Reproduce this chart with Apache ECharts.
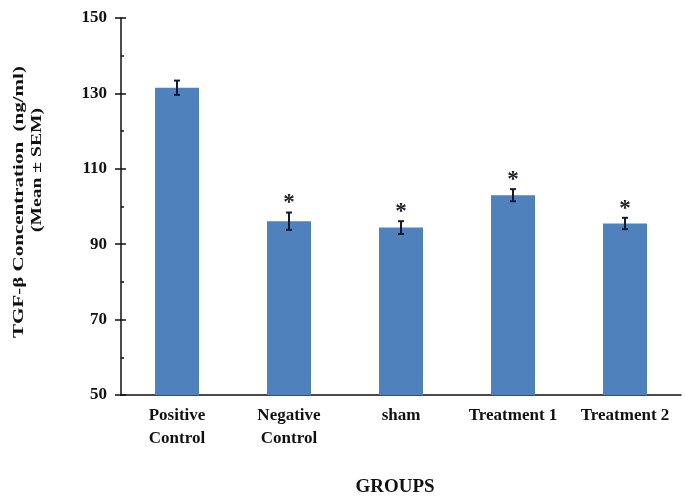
<!DOCTYPE html>
<html>
<head>
<meta charset="utf-8">
<script src="https://cdn.jsdelivr.net/npm/echarts@6/dist/echarts.min.js"></script>
<style>html,body{margin:0;padding:0;background:#fff}#c{width:685px;height:499px}</style>
</head>
<body>
<div id="c"></div>
<script>
var categories = ['Positive\nControl', 'Negative\nControl', 'sham', 'Treatment 1', 'Treatment 2'];
var means = [131.5, 96.1, 94.4, 103.0, 95.5];
var sems = [1.9, 2.3, 1.7, 1.6, 1.5];
var marks = ['', '*', '*', '*', '*'];
var yTitle = 'TGF-\u03b2 Concentration  (ng/ml)';
var ySubTitle = '(Mean \u00b1 SEM)';
var xTitle = 'GROUPS';

var FONT = "'Liberation Serif', 'Times New Roman', serif";
var chart = echarts.init(document.getElementById('c'), null, {renderer: 'canvas'});

var errData = means.map(function (m, i) { return [i, m, sems[i], marks[i]]; });

chart.setOption({
  animation: false,
  backgroundColor: '#ffffff',
  grid: {left: 121, right: 4, top: 18, bottom: 104, containLabel: false, outerBoundsMode: 'none'},
  xAxis: {
    type: 'category',
    data: categories,
    boundaryGap: true,
    axisLine: {lineStyle: {color: '#111', width: 1.5}},
    axisTick: {show: true, inside: true, alignWithLabel: true, length: 4, lineStyle: {color: '#111', width: 1.2}},
    axisLabel: {color: '#111', fontFamily: FONT, fontWeight: 'bold', fontSize: 17, lineHeight: 23, margin: 9, interval: 0},
    name: xTitle,
    nameLocation: 'middle',
    nameGap: 83,
    nameTextStyle: {color: '#111', fontFamily: FONT, fontWeight: 'bold', fontSize: 19, padding: [0, 12, 0, 0]}
  },
  yAxis: [{
    type: 'value', min: 50, max: 150, interval: 20,
    axisLine: {show: true, lineStyle: {color: '#111', width: 1.5}},
    axisTick: {show: true, inside: false, length: 6, lineStyle: {color: '#111', width: 1.5}},
    axisLabel: {color: '#111', fontFamily: FONT, fontWeight: 'bold', fontSize: 17, margin: 14},
    splitLine: {show: false}
  }, {
    type: 'value', min: 50, max: 150, interval: 20, position: 'left',
    axisLine: {show: false},
    axisTick: {show: true, inside: true, length: 5, lineStyle: {color: '#111', width: 1.5}},
    minorTick: {show: true, splitNumber: 2, length: 3, lineStyle: {color: '#111', width: 1.5}},
    axisLabel: {show: false},
    splitLine: {show: false}
  }],
  graphic: [
    {type: 'text', x: 19, y: 202, rotation: Math.PI / 2, scaleX: 1.4, scaleY: 1,
     style: {text: yTitle, fill: '#111', font: 'bold 15px ' + FONT, textAlign: 'center', textVerticalAlign: 'middle'}},
    {type: 'text', x: 37, y: 170, rotation: Math.PI / 2, scaleX: 1.4, scaleY: 1,
     style: {text: ySubTitle, fill: '#111', font: 'bold 14px ' + FONT, textAlign: 'center', textVerticalAlign: 'middle'}}
  ],
  series: [{
    type: 'bar',
    data: means,
    barWidth: 44,
    itemStyle: {color: '#4F81BD'},
    z: 2
  }, {
    type: 'custom',
    data: errData,
    z: 5,
    renderItem: function (params, api) {
      var i = api.value(0), m = api.value(1), s = api.value(2);
      var mark = marks[params.dataIndex];
      var top = api.coord([i, m + s]);
      var bot = api.coord([i, m - s]);
      var hw = 3;
      var st = {stroke: '#111a33', lineWidth: 2};
      var children = [
        {type: 'line', shape: {x1: top[0], y1: top[1], x2: bot[0], y2: bot[1]}, style: st},
        {type: 'line', shape: {x1: top[0] - hw, y1: top[1], x2: top[0] + hw, y2: top[1]}, style: st},
        {type: 'line', shape: {x1: bot[0] - hw, y1: bot[1], x2: bot[0] + hw, y2: bot[1]}, style: st}
      ];
      if (mark) {
        children.push({type: 'text', x: top[0], y: top[1] - 9,
          style: {text: mark, fill: '#222', font: 'bold 23px ' + FONT, textAlign: 'center', textVerticalAlign: 'middle'}});
      }
      return {type: 'group', children: children};
    }
  }]
});
</script>
</body>
</html>
